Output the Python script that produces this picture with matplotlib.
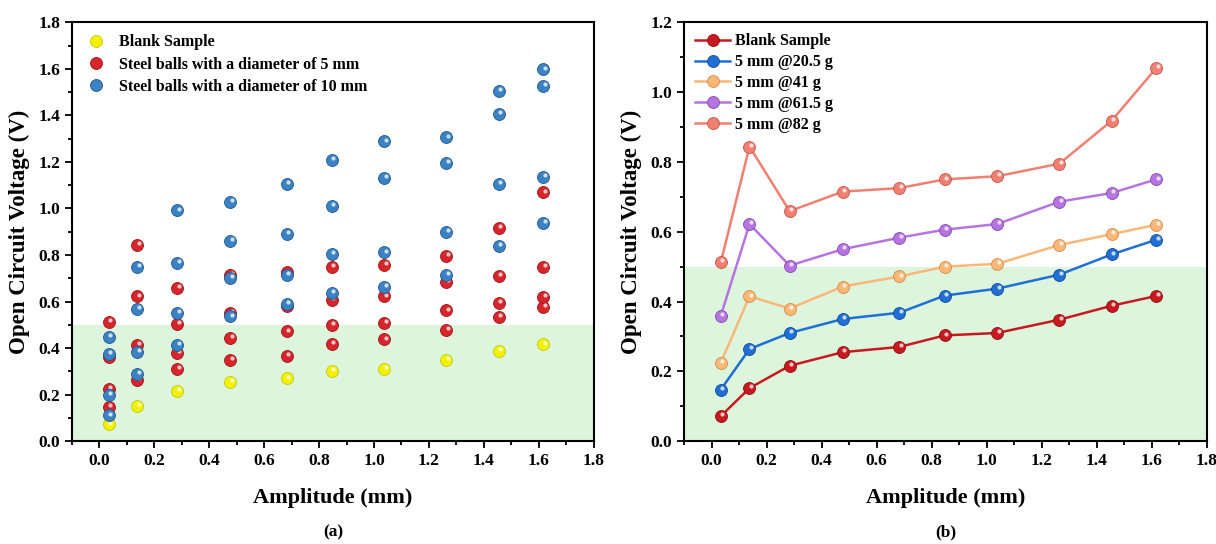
import numpy as np
import matplotlib
matplotlib.use("Agg")
import matplotlib.pyplot as plt
from matplotlib.transforms import offset_copy
from matplotlib.ticker import MultipleLocator

# amplitude of the vibration (mm)
amp = [0.034, 0.138, 0.284, 0.477, 0.683, 0.847, 1.038, 1.264, 1.454, 1.616]

# open circuit voltage (V)
blank = [0.072, 0.152, 0.216, 0.255, 0.270, 0.303, 0.310, 0.348, 0.388, 0.416]
d5_205 = [0.148, 0.264, 0.310, 0.350, 0.368, 0.417, 0.437, 0.477, 0.535, 0.577]
d5_41 = [0.225, 0.415, 0.380, 0.443, 0.472, 0.500, 0.508, 0.562, 0.593, 0.620]
d5_615 = [0.360, 0.622, 0.503, 0.550, 0.583, 0.606, 0.622, 0.686, 0.711, 0.750]
d5_82 = [0.513, 0.844, 0.659, 0.715, 0.725, 0.750, 0.759, 0.795, 0.918, 1.069]

# 10 mm steel balls, four loads each
d10_a = [0.111, 0.289, 0.413, 0.536, 0.591, 0.636, 0.664, 0.716, 0.840, 0.938]
d10_b = [0.200, 0.383, 0.550, 0.703, 0.713, 0.806, 0.811, 0.899, 1.107, 1.137]
d10_c = [0.374, 0.570, 0.766, 0.859, 0.890, 1.012, 1.130, 1.195, 1.408, 1.527]
d10_d = [0.447, 0.749, 0.992, 1.028, 1.107, 1.209, 1.288, 1.305, 1.504, 1.598]

labels_b = ["Blank Sample", "5 mm @20.5 g", "5 mm @41 g", "5 mm @61.5 g", "5 mm @82 g"]

plt.rcParams['font.family'] = ['Liberation Serif', 'DejaVu Serif']
plt.rcParams['font.weight'] = 'bold'
plt.rcParams['axes.labelweight'] = 'bold'

GREEN = '#dcf5dc'


def balls(ax, x, y, color, edge, z, label=None, ls='none', lw=1.8):
    """Shaded 'sphere' markers: coloured disc + small white highlight."""
    ln, = ax.plot(x, y, ls=ls, lw=lw, color=color, marker='o', ms=8.6,
                  mfc=color, mec=edge, mew=0.6, zorder=z, label=label)
    hl = offset_copy(ax.transData, fig=ax.figure, x=1.0, y=1.3, units='points')
    ax.plot(x, y, ls='none', marker='o', ms=3.0, mfc='white', mec='none',
            alpha=0.75, transform=hl, zorder=z + 0.1)
    return ln


def style_axes(ax, ymax):
    ax.axhspan(0, 0.5, color=GREEN, zorder=0, lw=0)
    ax.set_xlim(-0.1, 1.8)
    ax.set_ylim(0, ymax)
    ax.xaxis.set_major_locator(MultipleLocator(0.2))
    ax.xaxis.set_minor_locator(MultipleLocator(0.1))
    ax.yaxis.set_major_locator(MultipleLocator(0.2))
    ax.yaxis.set_minor_locator(MultipleLocator(0.1))
    ax.tick_params(which='both', direction='out', top=False, right=False,
                   labelsize=12.5, width=1.3)
    ax.tick_params(which='major', length=5)
    ax.tick_params(which='minor', length=3)
    ax.xaxis.set_major_formatter(matplotlib.ticker.FormatStrFormatter('%.1f'))
    ax.yaxis.set_major_formatter(matplotlib.ticker.FormatStrFormatter('%.1f'))
    for s in ax.spines.values():
        s.set_linewidth(1.5)
    ax.set_xlabel("Amplitude (mm)", fontsize=16, labelpad=14)
    ax.set_ylabel("Open Circuit Voltage (V)", fontsize=16.5, labelpad=6)


fig = plt.figure(figsize=(12.16, 5.44), dpi=100)
ax1 = fig.add_axes([0.0592, 0.189, 0.429, 0.770])
ax2 = fig.add_axes([0.5625, 0.189, 0.430, 0.770])

# ---- (a) scatter of all samples
style_axes(ax1, 1.8)
h_y = balls(ax1, amp, blank, '#f2f200', '#c8c800', 3, label="Blank Sample")
h_r = None
for i, ys in enumerate([d5_205, d5_41, d5_615, d5_82]):
    h = balls(ax1, amp, ys, '#d7262b', '#9e1418', 4,
              label="Steel balls with a diameter of 5 mm" if i == 0 else None)
    h_r = h_r or h
h_b = None
for i, ys in enumerate([d10_a, d10_b, d10_c, d10_d]):
    h = balls(ax1, amp, ys, '#3a82c4', '#22588e', 5,
              label="Steel balls with a diameter of 10 mm" if i == 0 else None)
    h_b = h_b or h
ax1.legend(handles=[h_y, h_r, h_b], loc='upper left', frameon=False,
           fontsize=11.5, handletextpad=0.7, labelspacing=0.4,
           borderaxespad=0.35, handlelength=1.5)

# ---- (b) lines for 5 mm balls under different loads
style_axes(ax2, 1.2)
cols = ['#c8191e', '#1f6fd6', '#f9b878', '#b674e0', '#f08072']
edges = ['#8c1014', '#144a94', '#d88c45', '#8549b0', '#c45448']
series = [blank, d5_205, d5_41, d5_615, d5_82]
hs = []
for ys, c, e, lab in zip(series, cols, edges, labels_b):
    hs.append(balls(ax2, amp, ys, c, e, 4, label=lab, ls='-', lw=1.8))
ax2.legend(handles=hs, loc='upper left', frameon=False, fontsize=11.5,
           handletextpad=0.3, labelspacing=0.3, borderaxespad=0.3,
           handlelength=2.2)

fig.text(0.0592 + 0.429 / 2, 0.014, "(a)", ha='center', fontsize=12.5, fontweight='bold')
fig.text(0.5625 + 0.430 / 2, 0.014, "(b)", ha='center', fontsize=12.5, fontweight='bold')

fig.savefig("out.png", dpi=100)
